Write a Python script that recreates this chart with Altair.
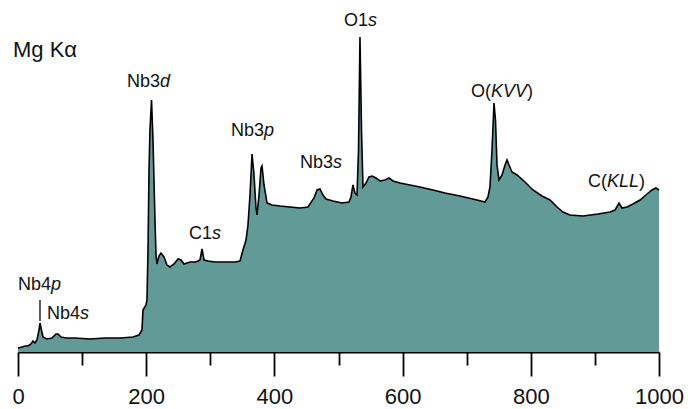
import altair as alt
import pandas as pd

FONT = "Liberation Sans"
FILL = "#629a98"
INK = "#111111"

# Survey spectrum: binding energy (eV) and intensity (arb. units)
energy_ev = [0, 6.2, 10.9, 15.6, 20.3, 23.4, 26.5, 29.6, 32.8, 34.3,
             35.9, 39.0, 45.2, 53.0, 59.3, 62.4, 67.1, 74.9, 88.9, 112.3,
             135.7, 159.1, 179.4, 188.8, 193.4, 195.0, 199.7, 201.2, 202.8, 204.4,
             205.9, 208.3, 210.6, 213.7, 215.3, 216.8, 219.9, 223.1, 227.8, 232.4,
             237.1, 243.4, 249.6, 254.3, 259.0, 268.3, 277.7, 283.9, 287.1, 290.2,
             296.4, 307.3, 322.9, 338.5, 346.3, 351.0, 355.7, 358.8, 361.9, 365.1,
             368.2, 371.3, 372.9, 376.0, 379.1, 380.7, 383.8, 388.5, 396.3, 408.7,
             424.3, 439.9, 452.4, 461.8, 466.5, 471.1, 475.8, 480.5, 491.4, 505.5,
             516.4, 519.5, 522.6, 525.7, 528.9, 531.2, 533.5, 535.9, 538.2, 542.9,
             547.6, 552.3, 558.5, 564.7, 572.5, 578.8, 585.0, 595.9, 611.5, 627.1,
             647.4, 666.1, 689.5, 716.1, 728.5, 733.2, 736.3, 739.5, 742.6, 744.9,
             747.3, 750.4, 755.1, 759.8, 762.9, 766.0, 770.7, 778.5, 790.9, 803.4,
             817.5, 830.0, 840.9, 850.2, 861.2, 881.4, 904.8, 923.6, 931.4, 937.6,
             942.3, 950.1, 959.4, 970.4, 981.3, 989.1, 995.3, 1000]
counts = [4, 5, 6, 6, 8, 11, 9, 12, 22, 29,
          24, 15, 13, 14, 18, 18, 15, 14, 14, 13,
          14, 14, 15, 17, 22, 42, 47, 52, 102, 182,
          222, 252, 212, 132, 97, 88, 96, 99, 95, 87,
          85, 88, 93, 92, 88, 90, 90, 92, 103, 92,
          91, 90, 90, 90, 91, 102, 112, 127, 157, 198,
          177, 144, 137, 157, 184, 186, 167, 149, 147, 146,
          145, 144, 145, 154, 162, 163, 157, 153, 151, 149,
          150, 155, 167, 159, 157, 202, 315, 222, 165, 169,
          175, 176, 174, 171, 172, 174, 171, 169, 167, 165,
          162, 159, 156, 152, 150, 155, 165, 202, 249, 232,
          187, 172, 177, 187, 192, 187, 180, 177, 170, 162,
          156, 152, 145, 140, 137, 136, 138, 140, 142, 149,
          144, 145, 148, 152, 158, 162, 164, 162]

# Peak labels: upright part ends where the italic part begins
label_energy = [51.5, 96.7, 221.5, 302.7, 383.8, 491.4, 546.0, 737.9, 918.9]
label_counts = [62, 33, 265, 113, 216, 184, 326, 255, 165]
label_upright = ["Nb4", "Nb4", "Nb3", "C1", "Nb3", "Nb3", "O1", "O(", "C("]
label_italic = ["p", "s", "d", "s", "p", "s", "s", "KVV", "KLL"]

# Closing brackets of the Auger labels
close_energy = [794.1, 968.8]
close_counts = [255, 165]
close_text = [")", ")"]

# Marker line under the Nb4p label
marker_energy = [34.3]
marker_low = [31]
marker_high = [52]

spectrum = pd.DataFrame({"energy": energy_ev, "counts": counts})
labels = pd.DataFrame({"energy": label_energy, "counts": label_counts,
                       "upright": label_upright, "italic": label_italic})
closers = pd.DataFrame({"energy": close_energy, "counts": close_counts, "text": close_text})
marker = pd.DataFrame({"energy": marker_energy, "low": marker_low, "high": marker_high})

x_scale = alt.Scale(domain=[0, 1000], nice=False, zero=False)
y_scale = alt.Scale(domain=[0, 342], nice=False)

x_axis = alt.Axis(
    title=None,
    values=list(range(0, 1001, 100)),
    format="d",
    labelExpr="datum.value % 200 == 0 ? datum.label : ''",
    tickSize={"condition": {"test": "datum.value % 200 == 0", "value": 24}, "value": 13},
    tickColor="black",
    tickWidth=1.8,
    domainColor="black",
    domainWidth=1.8,
    labelFont=FONT,
    labelFontSize=22,
    labelColor=INK,
    labelPadding=10,
    labelFlush=False,
    labelOverlap=False,
    grid=False,
)

area = alt.Chart(spectrum).mark_area(color=FILL, interpolate="linear").encode(
    x=alt.X("energy:Q", scale=x_scale, axis=x_axis),
    y=alt.Y("counts:Q", scale=y_scale, axis=None),
)

outline = alt.Chart(spectrum).mark_line(color="black", strokeWidth=1.6).encode(
    x=alt.X("energy:Q", scale=x_scale),
    y=alt.Y("counts:Q", scale=y_scale),
)

tick = alt.Chart(marker).mark_rule(color="black", strokeWidth=1.3).encode(
    x="energy:Q",
    y="low:Q",
    y2="high:Q",
)

upright = alt.Chart(labels).mark_text(
    align="right", baseline="alphabetic", font=FONT, fontSize=18, color=INK
).encode(x="energy:Q", y="counts:Q", text="upright:N")

italic = alt.Chart(labels).mark_text(
    align="left", baseline="alphabetic", font=FONT, fontSize=18, fontStyle="italic", color=INK
).encode(x="energy:Q", y="counts:Q", text="italic:N")

closing = alt.Chart(closers).mark_text(
    align="left", baseline="alphabetic", font=FONT, fontSize=18, color=INK
).encode(x="energy:Q", y="counts:Q", text="text:N")

chart = alt.layer(area, outline, tick, upright, italic, closing).properties(
    width=641,
    height=342,
    autosize=alt.AutoSizeParams(type="none"),
    padding={"left": 18, "top": 10, "right": 39, "bottom": 57},
    title=alt.TitleParams(
        text="Mg Kα",
        anchor="start",
        frame="group",
        orient="top",
        offset=0,
        dx=-5,
        dy=69,
        baseline="alphabetic",
        font=FONT,
        fontSize=22,
        fontWeight="normal",
        color=INK,
    ),
).configure_view(stroke=None)

chart.save("out.html", embed_options={"renderer": "svg", "actions": False})
